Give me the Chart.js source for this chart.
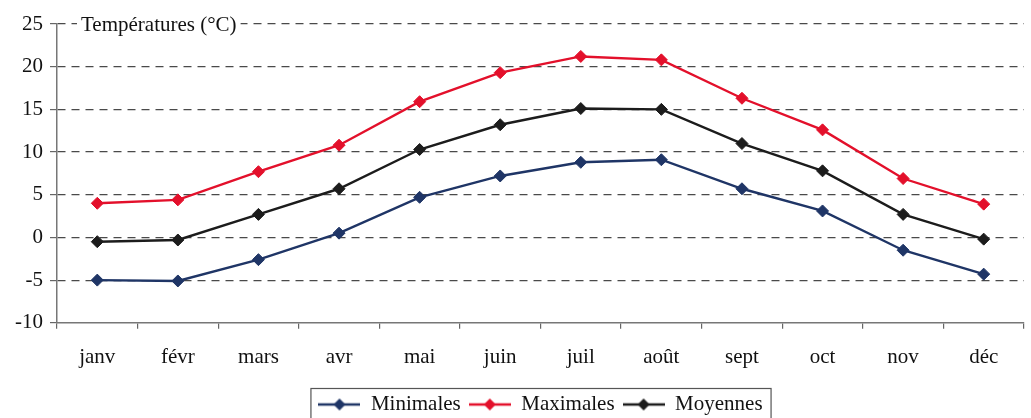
<!DOCTYPE html>
<html lang="fr">
<head>
<meta charset="utf-8">
<title>Températures</title>
<script src="https://cdn.jsdelivr.net/npm/chart.js@4.4.1/dist/chart.umd.min.js"></script>
<style>
  html, body { margin: 0; padding: 0; background: #fff; }
  #wrap { width: 1031px; height: 418px; position: relative; }
</style>
</head>
<body>
<div id="wrap"><canvas id="tempChart" width="1031" height="418"></canvas></div>
<script>
const months = ["janv", "févr", "mars", "avr", "mai", "juin", "juil", "août", "sept", "oct", "nov", "déc"];
const minimales = [-5.0, -5.1, -2.6, 0.5, 4.7, 7.2, 8.8, 9.1, 5.7, 3.1, -1.5, -4.3];
const maximales = [4.0, 4.4, 7.7, 10.8, 15.9, 19.3, 21.2, 20.8, 16.3, 12.6, 6.9, 3.9];
const moyennes = [-0.5, -0.3, 2.7, 5.7, 10.3, 13.2, 15.1, 15.0, 11.0, 7.8, 2.7, -0.2];
const yTicks = [-10, -5, 0, 5, 10, 15, 20, 25];

const serif = "'Liberation Serif', 'DejaVu Serif', serif";
const fontSize = 21;

// small line + diamond swatch used as the legend marker
function legendSwatch(color) {
  const c = document.createElement("canvas");
  c.width = 42;
  c.height = 14;
  const g = c.getContext("2d");
  g.strokeStyle = color;
  g.lineWidth = 2.5;
  g.beginPath();
  g.moveTo(0, 7);
  g.lineTo(42, 7);
  g.stroke();
  g.fillStyle = color;
  g.beginPath();
  g.moveTo(21, 1);
  g.lineTo(27, 7);
  g.lineTo(21, 13);
  g.lineTo(15, 7);
  g.closePath();
  g.fill();
  return c;
}

function series(label, data, color) {
  return {
    label: label,
    data: data,
    borderColor: color,
    backgroundColor: color,
    borderWidth: 2.4,
    pointStyle: "rectRot",
    pointRadius: 6,
    pointHoverRadius: 6,
    pointBorderWidth: 1,
    tension: 0
  };
}

// centre the legend under the plot area instead of the whole canvas
const legendShift = {
  id: "legendShift",
  beforeDraw(chart) {
    const lg = chart.legend;
    const area = chart.chartArea;
    const boxes = lg.legendHitBoxes;
    if (!boxes || !boxes.length) return;
    const first = boxes[0];
    const last = boxes[boxes.length - 1];
    const mid = (first.left + last.left + last.width) / 2;
    const dx = Math.round((area.left + area.right) / 2 - mid);
    lg.left += dx;
    lg.right += dx;
    boxes.forEach(b => { b.left += dx; });
  }
};

// axis title written over the top gridline, plus a frame round the legend
const decorations = {
  id: "decorations",
  afterDraw(chart) {
    const ctx = chart.ctx;
    const y = chart.scales.y;
    const top = y.getPixelForValue(25);
    const text = "Températures (°C)";
    ctx.save();
    ctx.font = fontSize + "px " + serif;
    const w = ctx.measureText(text).width;
    const x0 = chart.chartArea.left + 24;
    ctx.fillStyle = "#fff";
    ctx.fillRect(x0 - 4, top - 11, w + 8, 22);
    ctx.fillStyle = "#111";
    ctx.textBaseline = "middle";
    ctx.fillText(text, x0, top + 1);

    const boxes = chart.legend.legendHitBoxes;
    if (boxes && boxes.length) {
      const first = boxes[0];
      const last = boxes[boxes.length - 1];
      const l = first.left - 8;
      const r = last.left + last.width + 8;
      const t = first.top - 6;
      const b = first.top + first.height + 6;
      ctx.strokeStyle = "#555";
      ctx.lineWidth = 1.2;
      ctx.strokeRect(l + 0.5, t + 0.5, r - l, b - t);
    }
    ctx.restore();
  }
};

const colors = { min: "#1f3566", max: "#e3102b", moy: "#1c1c1c" };

new Chart(document.getElementById("tempChart"), {
  type: "line",
  data: {
    labels: months,
    datasets: [
      series("Minimales", minimales, colors.min),
      series("Maximales", maximales, colors.max),
      series("Moyennes", moyennes, colors.moy)
    ]
  },
  plugins: [legendShift, decorations],
  options: {
    responsive: false,
    animation: false,
    devicePixelRatio: 1,
    layout: { padding: { top: 24, left: 8, right: 0, bottom: -7 } },
    scales: {
      x: {
        offset: true,
        grid: {
          offset: true,
          drawOnChartArea: false,
          drawTicks: true,
          tickLength: 6,
          color: "#666",
          lineWidth: 1.2
        },
        border: { color: "#777", width: 1.5 },
        ticks: {
          color: "#111",
          padding: 16,
          autoSkip: false,
          maxRotation: 0,
          minRotation: 0,
          font: { family: serif, size: fontSize }
        }
      },
      y: {
        min: -10,
        max: 25,
        afterBuildTicks(scale) {
          scale.ticks = yTicks.map(v => ({ value: v }));
        },
        grid: {
          color: ctx => (ctx.tick && ctx.tick.value === -10 ? "rgba(0,0,0,0)" : "#4a4a4a"),
          tickColor: "#666",
          lineWidth: 1.2,
          tickLength: 7
        },
        border: { color: "#777", width: 1.5, dash: [8, 6] },
        ticks: {
          color: "#111",
          padding: 7,
          font: { family: serif, size: fontSize }
        }
      }
    },
    plugins: {
      tooltip: { enabled: false },
      legend: {
        position: "bottom",
        labels: {
          usePointStyle: true,
          pointStyleWidth: 42,
          padding: 8,
          color: "#111",
          font: { family: serif, size: fontSize },
          generateLabels(chart) {
            return chart.data.datasets.map((ds, i) => ({
              text: ds.label,
              pointStyle: legendSwatch(ds.borderColor),
              fillStyle: ds.borderColor,
              strokeStyle: ds.borderColor,
              lineWidth: 0,
              hidden: false,
              datasetIndex: i,
              fontColor: "#111"
            }));
          }
        }
      }
    }
  }
});
</script>
</body>
</html>
